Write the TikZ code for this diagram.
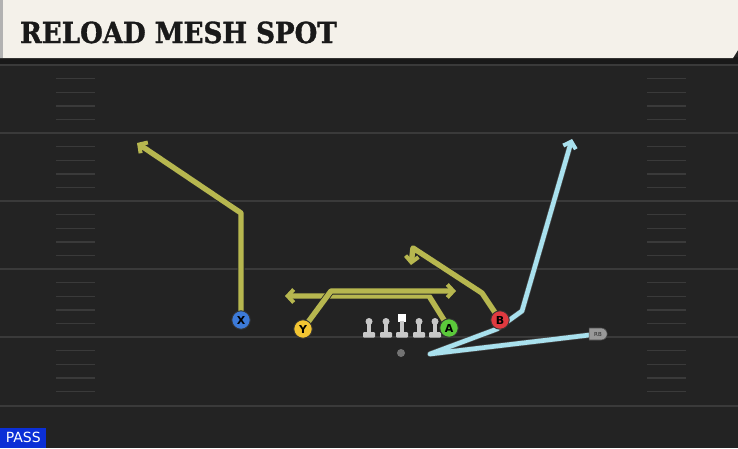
\documentclass[tikz,border=0pt]{standalone}
\usepackage{fontspec}
\setmainfont{DejaVu Sans}
\newfontfamily\titlefont[BoldFeatures={FakeBold=1.2}]{DejaVu Serif Condensed}
\usetikzlibrary{arrows.meta,shapes.misc}
\definecolor{fieldbg}{HTML}{232323}
\definecolor{yardln}{HTML}{3A3A3A}
\definecolor{hashln}{HTML}{3A3A3A}
\definecolor{headbg}{HTML}{F4F1EA}
\definecolor{passblue}{HTML}{0B2FD6}
\definecolor{rty}{HTML}{B7B74F}
\definecolor{rtb}{HTML}{A9E1EE}
\definecolor{plx}{HTML}{3C7AD8}
\definecolor{ply}{HTML}{F3C532}
\definecolor{pla}{HTML}{5BC93B}
\definecolor{plb}{HTML}{E03A40}
\definecolor{lineman}{HTML}{C8C8C8}
\tikzset{
  player/.style={circle, draw=black!80, line width=0.9pt, minimum size=18.5, inner sep=0pt, font=\fontsize{11}{11}\selectfont\bfseries, text=black},
  yroute/.style={draw=rty, line width=5.4pt, line join=round, preaction={draw=black!85, line width=7pt, line join=round}},
  broute/.style={draw=rtb, line width=4.6pt, line join=round, preaction={draw=black!70, line width=5.8pt, line join=round}},
  tip/.style={-{Straight Barb[length=6pt,width=13pt,line width=4pt]}},
  ohead/.style={circle, fill=lineman, minimum size=7, inner sep=0pt},
}
\begin{document}
\begin{tikzpicture}[x=1pt,y=-1pt]
\useasboundingbox (0,0) rectangle (738,448);
\fill[fieldbg] (0,0) rectangle (738,448);
% yard lines
\foreach \y in {65,133,201,269,337,406}
  \draw[yardln, line width=1.8pt] (0,\y) -- (738,\y);
% hash marks
\foreach \y in {65,133,201,269,337}
  \foreach \k in {1,2,3,4} {
    \draw[hashln, line width=1.4pt] (56,\y+13.6*\k) -- (95,\y+13.6*\k);
    \draw[hashln, line width=1.4pt] (647,\y+13.6*\k) -- (686,\y+13.6*\k);
  }
% header
\fill[black!90] (0,57) rectangle (738,64);
\fill[headbg] (0,0) -- (738,0) -- (738,50) -- (733,58) -- (0,58) -- cycle;
\fill[black!30] (0,0) rectangle (3,58);
\node[anchor=base west, inner sep=0pt, font=\titlefont\bfseries\fontsize{29}{29}\selectfont, text=black!90] (title) at (20,43) {RELOAD MESH SPOT};
% PASS label
\node[fill=passblue, text=white, anchor=south west, minimum width=46, minimum height=20, inner sep=0pt, font=\fontsize{14}{14}\selectfont] (pass) at (0,448) {PASS};

% coordinates
\coordinate (x1) at (241,213);
\coordinate (x2) at (137,143);
\coordinate (y1) at (331,291);
\coordinate (y2) at (456,291);
\coordinate (a1) at (429,296);
\coordinate (a2) at (285,296);
\coordinate (b1) at (482,293);
\coordinate (b2) at (413,248);
\coordinate (b3) at (411,265);
\coordinate (r1) at (430,354);
\coordinate (r2) at (497,329);
\coordinate (r3) at (522,311);
\coordinate (r4) at (572,139);

% players (positions)
\path (241,320) coordinate (px) (303,329) coordinate (py) (449,328) coordinate (pa) (500,320) coordinate (pb) (598,334) coordinate (prb);

% routes
\draw[yroute, tip] (px) -- (x1) -- (x2);
\draw[yroute, tip] (pa) -- (a1) -- (a2);
\draw[yroute, tip] (py) -- (y1) -- (y2);
\draw[yroute, tip] (pb) -- (b1) -- (b2) -- (b3);
\draw[broute, tip] (prb) -- (r1) -- (r2) -- (r3) -- (r4);

% offensive line
\foreach \xx/\nm in {369/l1,386/l2,419/l4,435/l5} {
  \node[ohead] (\nm) at (\xx,321.5) {};
  \fill[lineman] (\xx-2.2,322) rectangle (\xx+2.2,334);
  \fill[lineman, rounded corners=1pt] (\xx-6,332) rectangle (\xx+6,337.5);
}
\node[fill=white, minimum size=8.5, inner sep=0pt] (c) at (402,318) {};
\fill[lineman] (399.8,321) rectangle (404.2,334);
\fill[lineman, rounded corners=1pt] (396,332) rectangle (408,337.5);
\node[circle, fill=black!55, minimum size=8, inner sep=0pt] (qb) at (401,353) {};

\node[player, fill=plx] (X) at (px) {X};
\node[player, fill=ply] (Y) at (py) {Y};
\node[player, fill=pla] (A) at (pa) {A};
\node[player, fill=plb] (B) at (pb) {B};
\node[rounded rectangle, rounded rectangle left arc=none, fill=black!40, draw=black!70, line width=0.6pt, minimum width=18, minimum height=12, inner sep=0pt, font=\fontsize{5.5}{5.5}\selectfont, text=black!85] (RB) at (prb) {RB};
\end{tikzpicture}
\end{document}
